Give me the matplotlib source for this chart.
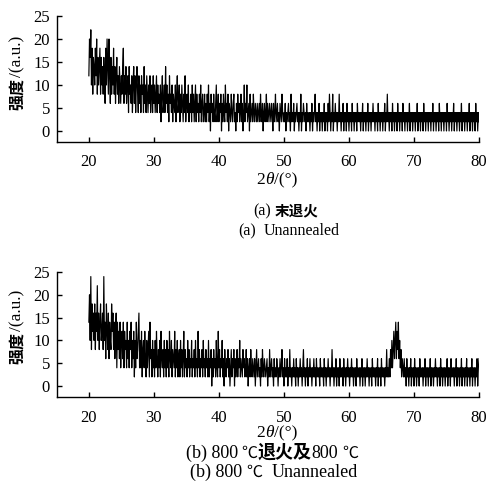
import matplotlib
matplotlib.use('Agg')
import matplotlib.pyplot as plt
from matplotlib.transforms import IdentityTransform
import numpy as np

plt.rcParams['font.family'] = ['Liberation Serif', 'Noto Sans CJK SC']

# 2theta scan grid, 20..80 deg, step 0.1
two_theta = np.linspace(20, 80, 601)

# (a) unannealed, counts (one row = 2 deg)
intensity_a = [
    12, 20, 16, 22, 10,  18, 8, 16, 14, 10,  18, 12, 20, 8, 16,  10, 14, 18, 8, 16,
    10, 14, 8, 16, 12,  6, 18, 10, 20, 14,  8, 20, 12, 6, 16,  8, 14, 10, 18, 8,
    14, 6, 12, 16, 8,  12, 6, 14, 10, 6,  12, 8, 14, 18, 6,  12, 8, 14, 6, 10,
    12, 4, 14, 8, 10,  6, 12, 4, 10, 14,  6, 12, 4, 10, 14,  8, 4, 12, 6, 10,
    4, 12, 8, 10, 4,  14, 6, 10, 4, 12,  8, 4, 10, 6, 12,  4, 8, 10, 4, 12,
    6, 10, 4, 8, 12,  4, 10, 6, 8, 4,  10, 2, 8, 12, 4,  6, 10, 4, 14, 6,
    10, 4, 8, 2, 12,  6, 8, 4, 10, 2,  8, 6, 4, 10, 2,  8, 12, 4, 6, 10,
    2, 8, 4, 10, 6,  2, 8, 4, 12, 2,  6, 8, 4, 10, 2,  6, 4, 8, 2, 10,
    4, 8, 2, 6, 10,  2, 8, 4, 6, 2,  8, 4, 10, 2, 6,  8, 2, 4, 8, 2,
    6, 2, 8, 4, 10,  2, 6, 0, 8, 4,  6, 2, 8, 4, 2,  6, 10, 2, 4, 8,
    2, 6, 4, 8, 0,  6, 2, 8, 4, 2,  10, 4, 6, 2, 8,  0, 6, 4, 2, 8,
    4, 2, 6, 8, 2,  4, 0, 6, 2, 8,  4, 6, 2, 4, 8,  2, 6, 0, 4, 10,
    2, 6, 4, 10, 2,  4, 6, 0, 8, 2,  4, 6, 2, 8, 4,  2, 6, 4, 2, 6,
    2, 4, 6, 2, 8,  4, 2, 6, 0, 4,  6, 2, 4, 8, 2,  6, 4, 2, 6, 4,
    2, 6, 4, 0, 6,  2, 4, 8, 2, 4,  6, 2, 4, 0, 6,  4, 2, 8, 4, 2,
    4, 2, 6, 0, 4,  2, 4, 6, 2, 4,  0, 8, 2, 4, 2,  6, 0, 4, 2, 4,
    6, 2, 4, 0, 4,  2, 8, 0, 4, 2,  6, 4, 2, 4, 0,  6, 2, 4, 2, 4,
    0, 4, 2, 6, 0,  4, 2, 4, 8, 2,  4, 0, 4, 2, 6,  0, 4, 2, 4, 0,
    4, 2, 6, 0, 4,  2, 4, 0, 6, 2,  8, 4, 0, 4, 2,  8, 0, 4, 2, 6,
    2, 4, 0, 4, 2,  8, 2, 4, 0, 4,  2, 6, 0, 4, 2,  4, 0, 6, 2, 4,
    0, 4, 2, 4, 0,  6, 2, 4, 0, 4,  2, 4, 0, 6, 2,  4, 2, 4, 0, 4,
    2, 6, 0, 4, 2,  4, 0, 4, 2, 6,  0, 4, 2, 4, 0,  4, 2, 6, 2, 4,
    0, 4, 2, 4, 0,  6, 2, 4, 0, 4,  2, 4, 0, 4, 2,  6, 0, 4, 2, 8,
    2, 4, 0, 4, 2,  4, 0, 6, 2, 4,  0, 4, 2, 4, 0,  6, 2, 4, 0, 4,
    2, 4, 0, 6, 2,  4, 0, 4, 2, 4,  0, 4, 2, 6, 0,  4, 2, 4, 0, 4,
    2, 4, 0, 4, 2,  6, 0, 4, 2, 4,  0, 4, 2, 4, 0,  6, 2, 4, 0, 4,
    2, 4, 0, 4, 2,  4, 0, 4, 2, 6,  0, 4, 2, 4, 0,  4, 2, 4, 0, 6,
    2, 4, 0, 4, 2,  4, 0, 4, 2, 4,  0, 6, 2, 4, 0,  4, 2, 4, 0, 4,
    2, 6, 0, 4, 2,  4, 0, 4, 2, 4,  0, 4, 2, 6, 0,  4, 2, 4, 0, 4,
    2, 4, 0, 4, 2,  6, 0, 4, 2, 4,  0, 4, 2, 4, 0,  6, 2, 4, 0, 4,
    2,
]

# (b) 800 C annealed, small peak near 67.4 deg
intensity_b = [
    14, 20, 10, 24, 8,  18, 12, 16, 10, 18,  8, 16, 12, 22, 10,  16, 8, 14, 18, 10,
    12, 16, 8, 24, 10,  14, 6, 18, 12, 8,  16, 6, 14, 10, 8,  18, 12, 16, 8, 14,
    6, 12, 16, 4, 14,  8, 12, 6, 14, 4,  10, 12, 6, 14, 4,  12, 8, 10, 4, 14,
    6, 10, 4, 12, 8,  14, 4, 10, 6, 12,  2, 10, 4, 14, 6,  8, 12, 16, 4, 10,
    4, 12, 2, 8, 10,  4, 12, 6, 2, 10,  4, 8, 12, 2, 14,  6, 8, 2, 10, 4,
    8, 2, 10, 4, 12,  6, 2, 8, 4, 10,  2, 12, 6, 4, 8,  2, 10, 4, 8, 2,
    10, 4, 8, 2, 12,  6, 4, 10, 2, 8,  6, 4, 12, 2, 8,  4, 10, 2, 6, 8,
    2, 10, 4, 8, 2,  6, 12, 2, 8, 4,  6, 2, 10, 4, 8,  2, 6, 4, 10, 2,
    6, 4, 8, 2, 10,  4, 6, 2, 12, 4,  8, 2, 6, 4, 8,  2, 10, 4, 6, 2,
    8, 4, 6, 2, 10,  2, 6, 4, 8, 0,  6, 2, 8, 4, 6,  2, 10, 4, 2, 12,
    4, 8, 2, 6, 4,  10, 2, 6, 0, 8,  4, 2, 6, 4, 8,  2, 6, 0, 4, 8,
    2, 6, 4, 8, 0,  6, 2, 4, 8, 2,  6, 4, 10, 2, 6,  4, 2, 8, 4, 6,
    2, 4, 8, 2, 6,  0, 4, 6, 2, 8,  4, 2, 6, 4, 2,  6, 0, 4, 8, 2,
    4, 6, 2, 4, 0,  6, 2, 8, 4, 2,  6, 4, 2, 4, 6,  0, 4, 2, 8, 2,
    4, 6, 2, 4, 0,  6, 2, 4, 2, 6,  4, 0, 4, 2, 6,  2, 4, 8, 2, 4,
    0, 6, 2, 4, 2,  6, 0, 4, 2, 8,  2, 4, 0, 4, 2,  6, 2, 4, 0, 6,
    2, 4, 0, 4, 2,  6, 2, 4, 0, 4,  8, 2, 4, 0, 4,  2, 6, 0, 4, 2,
    6, 2, 4, 0, 4,  2, 6, 2, 4, 0,  6, 2, 4, 2, 4,  0, 6, 2, 4, 2,
    4, 0, 6, 2, 4,  0, 4, 2, 6, 2,  4, 0, 4, 2, 8,  2, 4, 0, 4, 2,
    6, 0, 4, 2, 4,  0, 6, 2, 4, 2,  4, 0, 6, 2, 4,  0, 4, 2, 6, 2,
    4, 0, 4, 2, 6,  2, 4, 0, 4, 2,  4, 0, 6, 2, 4,  2, 4, 0, 4, 2,
    6, 0, 4, 2, 4,  0, 4, 2, 6, 2,  4, 0, 4, 2, 4,  0, 6, 2, 4, 2,
    4, 0, 4, 2, 6,  0, 4, 2, 4, 0,  6, 2, 4, 2, 4,  0, 4, 2, 8, 2,
    4, 2, 6, 2, 8,  4, 10, 4, 8, 12,  6, 10, 14, 6, 12,  8, 14, 6, 10, 4,
    8, 2, 6, 4, 2,  6, 2, 4, 0, 6,  2, 4, 0, 4, 2,  6, 0, 4, 2, 4,
    0, 6, 2, 4, 0,  4, 2, 4, 0, 6,  2, 4, 2, 4, 0,  4, 2, 6, 0, 4,
    2, 4, 0, 4, 2,  6, 0, 4, 2, 4,  0, 4, 2, 6, 2,  4, 0, 4, 2, 4,
    0, 6, 2, 4, 0,  4, 2, 4, 0, 4,  2, 6, 0, 4, 2,  4, 0, 6, 2, 4,
    2, 4, 0, 4, 2,  6, 0, 4, 2, 4,  0, 4, 2, 6, 0,  4, 2, 4, 0, 4,
    2, 6, 0, 4, 2,  4, 0, 4, 2, 6,  0, 4, 2, 4, 0,  4, 2, 6, 0, 4,
    6,
]

x_ticks = [20, 30, 40, 50, 60, 70, 80]
y_ticks = [0, 5, 10, 15, 20, 25]

W, H = 487, 494
fig = plt.figure(figsize=(W / 100, H / 100), dpi=100)

# axes boxes in pixels (left, top, right, bottom)
boxes = [(57, 16, 479, 142), (57, 272, 479, 397)]
series = [intensity_a, intensity_b]
for (l, t, r, b), y in zip(boxes, series):
    ax = fig.add_axes([l / W, 1 - b / H, (r - l) / W, (b - t) / H])
    ax.plot(two_theta, y, color='black', lw=0.85)
    ax.set_xlim(15.1, 80)
    ax.set_ylim(-2.4, 25)
    ax.set_xticks(x_ticks)
    ax.set_yticks(y_ticks)
    for s in ['top', 'right']:
        ax.spines[s].set_visible(False)
    for s in ['left', 'bottom']:
        ax.spines[s].set_linewidth(1.0)
    ax.tick_params(direction='in', length=3.5, width=1.0, labelsize=12)
    ax.tick_params(axis='x', pad=9)
    ax.tick_params(axis='y', pad=5)

renderer = fig.canvas.get_renderer()
SERIF = 'Liberation Serif'
CJK = 'Noto Sans CJK SC'


def put_runs(runs, xc, y_base):
    # runs: (text, family, size, weight, style, gap after in px)
    items = []
    for s, fam, size, weight, style, gap in runs:
        t = fig.text(0, 0, s, transform=IdentityTransform(), ha='left', va='baseline',
                     family=fam, size=size, weight=weight, style=style)
        w = t.get_window_extent(renderer=renderer).width
        items.append((t, w, gap))
    total = sum(w + g for _, w, g in items) - items[-1][2]
    x = xc - total / 2
    for t, w, g in items:
        t.set_position((x, H - y_base))
        x += w + g


def put_vertical(runs, x, yc):
    items = []
    for s, fam, size, weight, gap in runs:
        t = fig.text(0, 0, s, transform=IdentityTransform(), ha='center', va='bottom',
                     rotation=90, family=fam, size=size, weight=weight)
        h = t.get_window_extent(renderer=renderer).height
        items.append((t, h, gap))
    total = sum(h + g for _, h, g in items) - items[-1][2]
    y = (H - yc) - total / 2
    for t, h, g in items:
        t.set_position((x, y))
        y += h + g


# y labels
for yc in [73, 327]:
    put_vertical([('强度', CJK, 11.5, 'bold', 1),
                  ('/(a.u.)', SERIF, 12.5, 'normal', 0)], 17, yc)

# x labels
for yb in [184, 437]:
    put_runs([('2', SERIF, 12.5, 'normal', 'normal', 0),
              ('θ', SERIF, 12.5, 'normal', 'italic', 0),
              ('/(°)', SERIF, 12.5, 'normal', 'normal', 0)], 277, yb)

# captions
put_runs([('(a)', SERIF, 11.5, 'normal', 'normal', 4),
          ('末退火', CJK, 10.5, 'bold', 'normal', 0)], 286, 215)
put_runs([('(a)', SERIF, 11.5, 'normal', 'normal', 8),
          ('Unannealed', SERIF, 11.5, 'normal', 'normal', 0)], 289, 235)
put_runs([('(b) 800', SERIF, 13, 'normal', 'normal', 4),
          ('℃', CJK, 11.5, 'normal', 'normal', 0),
          ('退火及', CJK, 13, 'bold', 'normal', 0),
          ('800', SERIF, 13, 'normal', 'normal', 4),
          ('℃', CJK, 11.5, 'normal', 'normal', 0)], 272, 458)
put_runs([('(b) 800', SERIF, 13, 'normal', 'normal', 4),
          ('℃', CJK, 11.5, 'normal', 'normal', 10),
          ('Unannealed', SERIF, 13, 'normal', 'normal', 0)], 274, 477)

fig.savefig('out.png', dpi=100)
